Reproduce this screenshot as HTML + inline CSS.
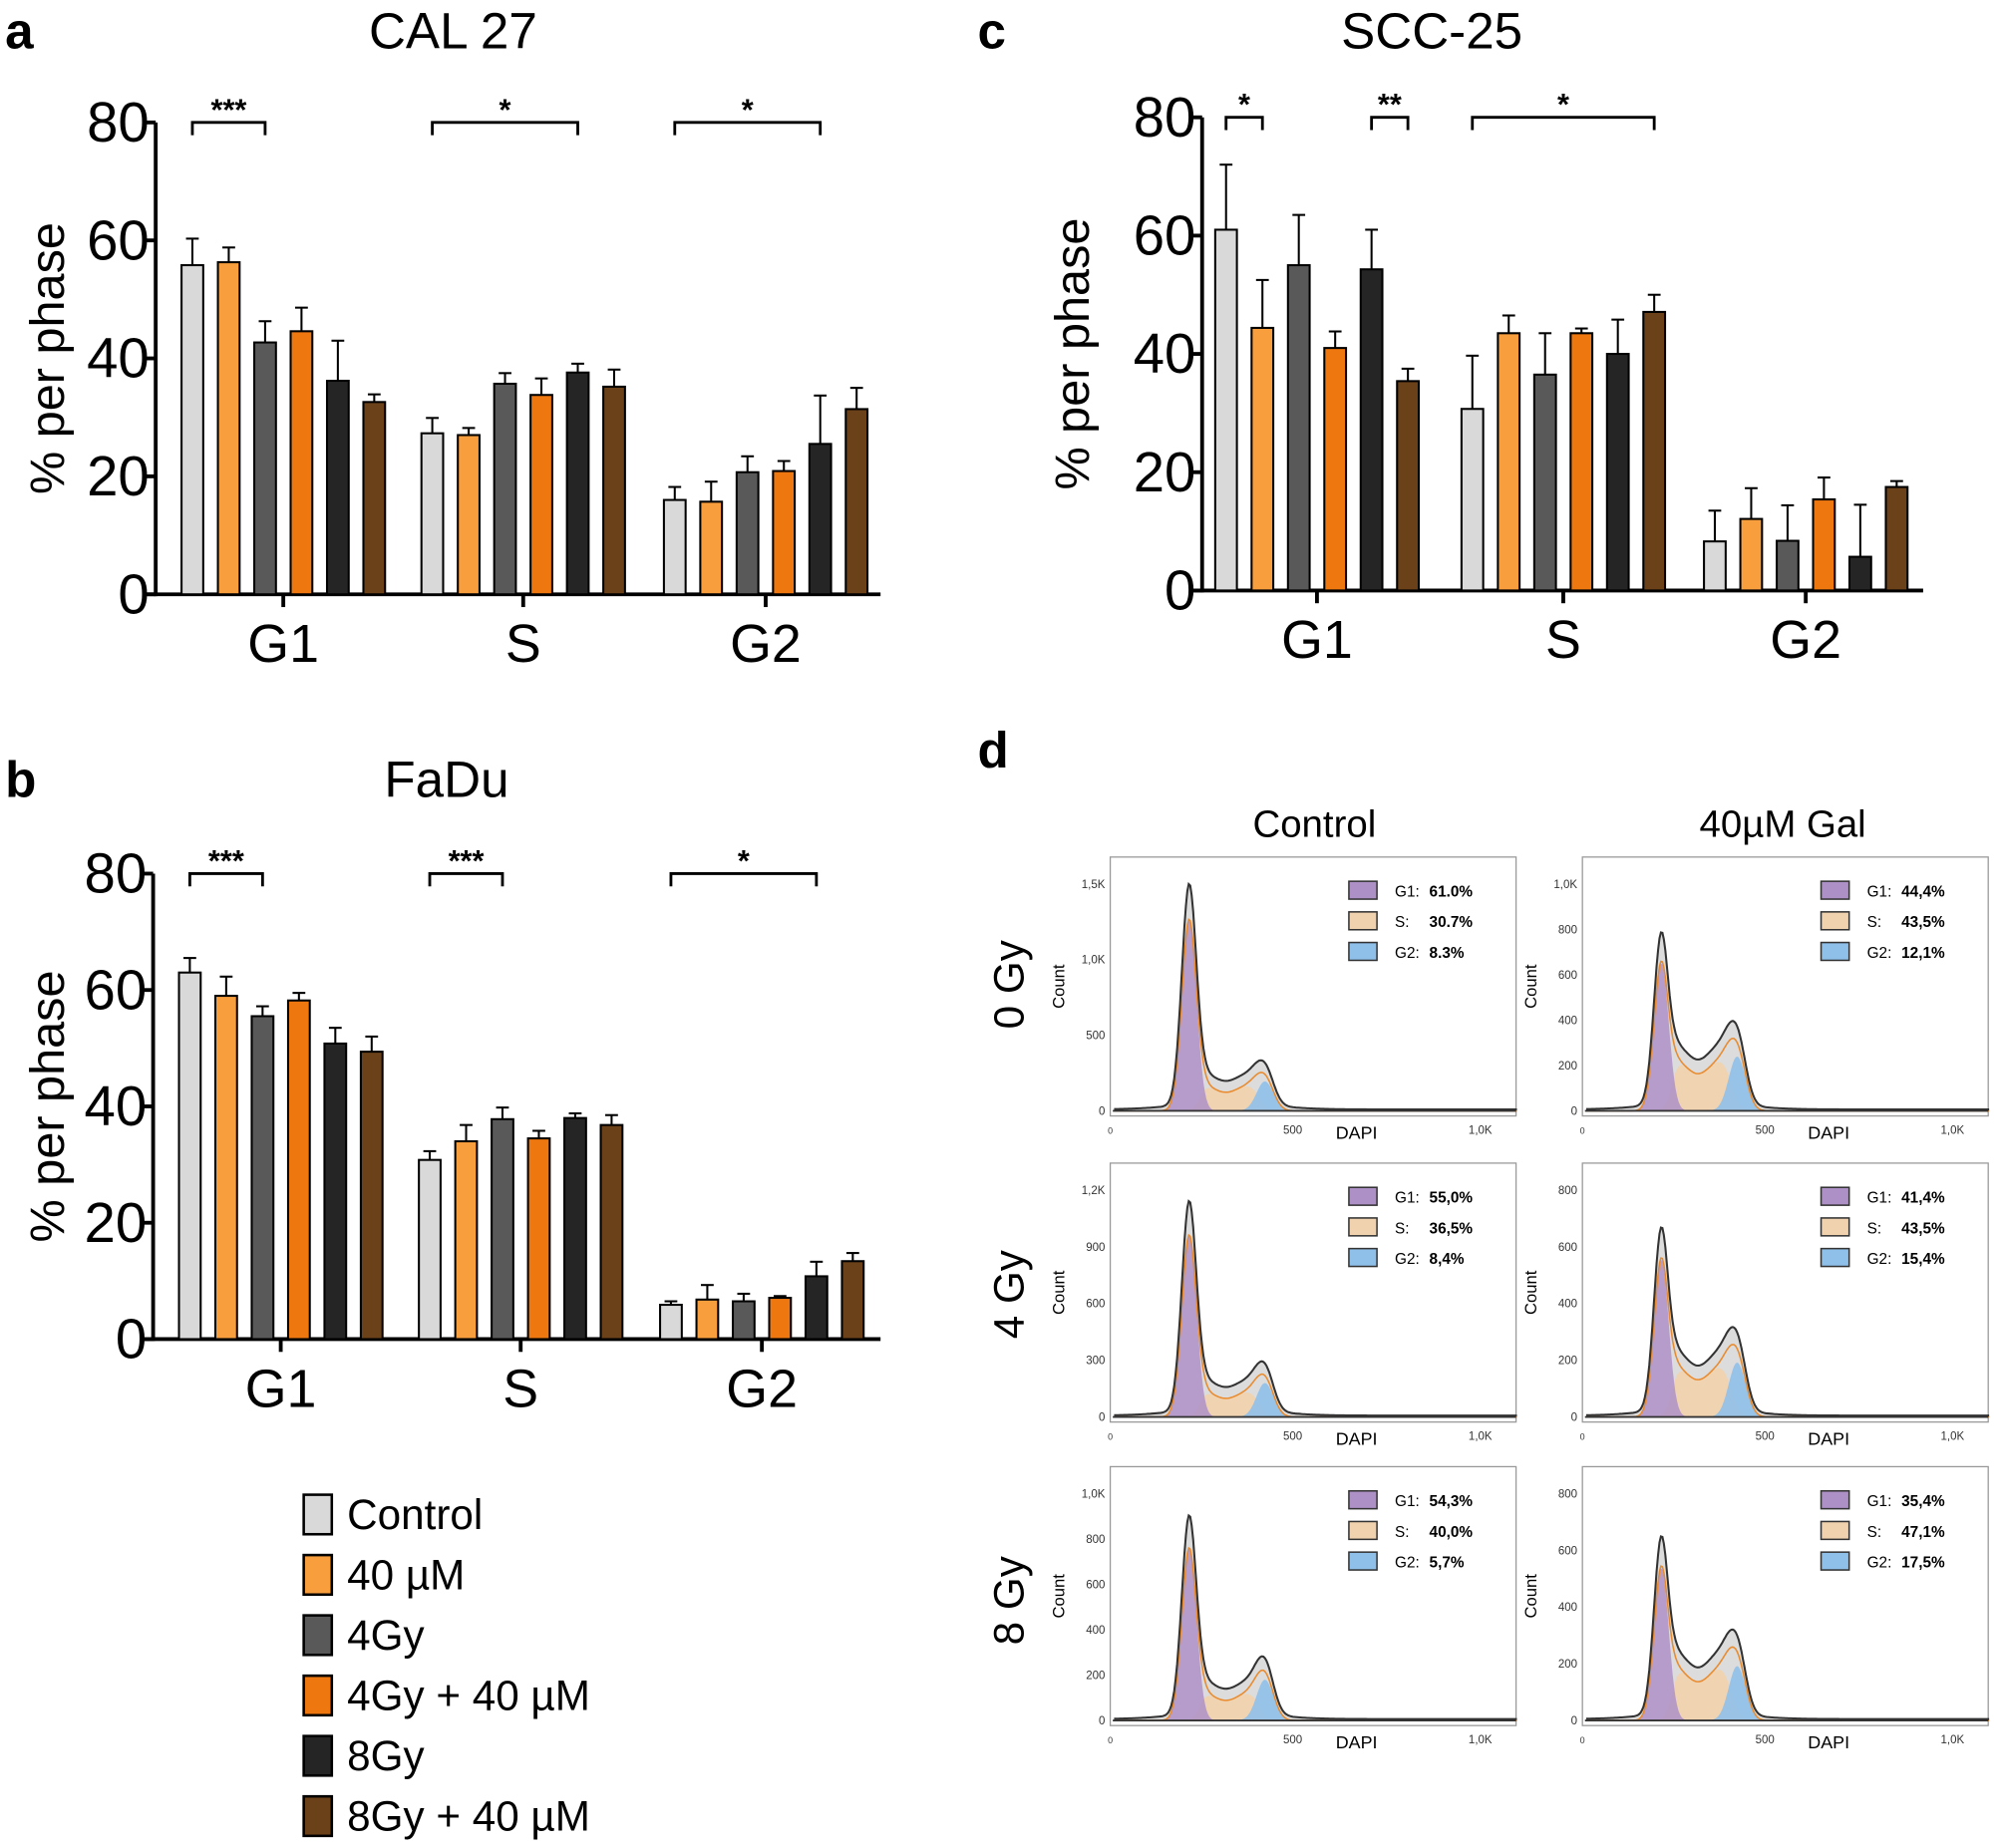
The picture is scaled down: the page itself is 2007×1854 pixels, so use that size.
<!DOCTYPE html>
<html><head><meta charset="utf-8"><style>
html,body{margin:0;padding:0;background:#fff;}
svg{display:block;font-family:"Liberation Sans",Arial,sans-serif;}
</style></head><body>
<svg id="fig" width="2007" height="1854" viewBox="0 0 1568 1449" preserveAspectRatio="none" xmlns="http://www.w3.org/2000/svg">
<rect width="1568" height="1449" fill="#fff"/>
<g font-weight="bold" font-size="40" fill="#000">
<text x="4" y="38">a</text>
<text x="4" y="625">b</text>
<text x="766" y="38">c</text>
<text x="766" y="602">d</text>
</g>
<g font-size="40" text-anchor="middle">
<text x="355" y="38">CAL 27</text>
<text x="350" y="625">FaDu</text>
<text x="1122" y="38">SCC-25</text>
</g>
<g id="legend"></g>
<g font-size="30" text-anchor="middle">
<text x="1030" y="656">Control</text>
<text x="1397" y="656">40µM Gal</text>
<text transform="translate(802,772) rotate(-90)" font-size="33">0 Gy</text>
<text transform="translate(802,1015) rotate(-90)" font-size="33">4 Gy</text>
<text transform="translate(802,1255) rotate(-90)" font-size="33">8 Gy</text>
</g>
</svg>
<script>
const NS="http://www.w3.org/2000/svg";
const svg=document.getElementById('fig');
function mk(tag,attrs,parent){const e=document.createElementNS(NS,tag);for(const k in attrs)e.setAttribute(k,attrs[k]);(parent||svg).appendChild(e);return e;}

const categories=["G1","S","G2"];
const treatments=["Control","40 µM","4Gy","4Gy + 40 µM","8Gy","8Gy + 40 µM"];
const colors=["#d9d9d9","#f99e3d","#595959","#ee770f","#252525","#6a4119"];
const yTicks=[0,20,40,60,80];
// values [treatment][phase]
const calMean=[[55.8,27.3,16.0],[56.3,27.0,15.7],[42.7,35.7,20.7],[44.6,33.8,20.9],[36.2,37.6,25.5],[32.6,35.2,31.4]];
const calErr=[[60.3,29.9,18.2],[58.8,28.2,19.1],[46.3,37.5,23.4],[48.6,36.6,22.6],[43.0,39.1,33.7],[33.9,38.1,35.0]];
const faduMean=[[63.0,30.8,5.9],[59.0,34.0,6.8],[55.5,37.8,6.5],[58.2,34.5,7.1],[50.8,38.0,10.8],[49.4,36.8,13.4]];
const faduErr=[[65.5,32.3,6.5],[62.3,36.8,9.3],[57.2,39.8,7.8],[59.5,35.8,7.4],[53.5,38.8,13.3],[52.0,38.5,14.8]];
const sccMean=[[61.0,30.7,8.3],[44.4,43.5,12.1],[55.0,36.5,8.4],[41.0,43.5,15.4],[54.3,40.0,5.7],[35.4,47.1,17.5]];
const sccErr=[[72.0,39.7,13.5],[52.5,46.5,17.3],[63.5,43.5,14.4],[43.8,44.3,19.1],[61.0,45.8,14.5],[37.5,50.0,18.5]];
const calSig=[[0,0,2,"***"],[1,0,4,"*"],[2,0,4,"*"]];
const faduSig=[[0,0,2,"***"],[1,0,2,"***"],[2,0,4,"*"]];
const sccSig=[[0,0,1,"*"],[0,4,5,"**"],[1,0,5,"*"]];

function barChart(name,ax,y0,y80,xEnd,centers,mean,err,sig,titleX){
  const g=mk('g',{});
  
  
  const y=v=>y0-(y0-y80)*v/80;
  const bx=(c,i)=>centers[c]+(i-2.5)*28.5;
  const yAxis=mk('line',{x1:ax,y1:y(80),x2:ax,y2:y0+1.5,stroke:'#000','stroke-width':3},g);
  
  
  const xAxis=mk('line',{x1:ax-8,y1:y0,x2:xEnd,y2:y0,stroke:'#000','stroke-width':3},g);
  
  
  yTicks.forEach(t=>{
    mk('line',{x1:ax-8,y1:y(t),x2:ax,y2:y(t),stroke:'#000','stroke-width':3},g);
    const tl=mk('text',{x:ax-5,y:y(t)+15,'font-size':44,'text-anchor':'end'},g);tl.textContent=t;
    
    
  });
  const yl=mk('text',{transform:`translate(${titleX},${(y0+y80)/2}) rotate(-90)`,'font-size':38,'text-anchor':'middle'},g);
  yl.textContent='% per phase';
  
  
  categories.forEach((c,ci)=>{
    mk('line',{x1:centers[ci],y1:y0,x2:centers[ci],y2:y0+10,stroke:'#000','stroke-width':3},g);
    const cl=mk('text',{x:centers[ci],y:y0+53,'font-size':42,'text-anchor':'middle'},g);cl.textContent=c;
    
    
    for(let i=0;i<6;i++){
      const cx=bx(ci,i);
      mk('line',{x1:cx,y1:y(err[i][ci]),x2:cx,y2:y(mean[i][ci]),stroke:'#000','stroke-width':1.6},g);
      mk('line',{x1:cx-5,y1:y(err[i][ci]),x2:cx+5,y2:y(err[i][ci]),stroke:'#000','stroke-width':1.6},g);
      const b=mk('rect',{x:cx-8.5,y:y(mean[i][ci]),width:17,height:y0-y(mean[i][ci]),fill:colors[i],stroke:'#000','stroke-width':1.6},g);
      
      
    }
  });
  sig.forEach(s=>{
    const xa=bx(s[0],s[1]),xb=bx(s[0],s[2]),yb=y80;
    const br=mk('path',{d:`M${xa},${yb+10}V${yb}H${xb}V${yb+10}`,fill:'none',stroke:'#000','stroke-width':2.2},g);
    
    
    const st=mk('text',{x:(xa+xb)/2,y:yb-2,'font-size':24,'font-weight':'bold','text-anchor':'middle'},g);st.textContent=s[3];
    
    
  });
}
barChart('chart-cal27',122,466,96,690,[222,410,600],calMean,calErr,calSig,50);
barChart('chart-fadu',120,1050,685,690,[220,408,597],faduMean,faduErr,faduSig,50);
barChart('chart-scc25',942,463,92,1507,[1032,1225,1415],sccMean,sccErr,sccSig,853);

// legend
const lg=document.getElementById('legend');
treatments.forEach((t,i)=>{
  const yy=1172+i*47.3;
  const r=mk('rect',{x:238,y:yy,width:22,height:31,fill:colors[i],stroke:'#000','stroke-width':2},lg);
  
  
  const tx=mk('text',{x:272,y:yy+27,'font-size':33},lg);tx.textContent=t;
  
  
});

// histograms (panel d): fraction-of-plot heights
const histBoxes=[[870,672],[1240,672],[870,912],[1240,912],[870,1150],[1240,1150]];
const g1Amp=[0.80,0.62,0.76,0.66,0.72,0.64];
const sAmp=[0.12,0.24,0.12,0.24,0.13,0.25];
const g2Amp=[0.13,0.24,0.15,0.24,0.18,0.24];
const yMaxLabels=[["0","500","1,0K","1,5K"],["0","200","400","600","800","1,0K"],["0","300","600","900","1,2K"],["0","200","400","600","800"],["0","200","400","600","800","1,0K"],["0","200","400","600","800"]];
const g1Pct=["61.0%","44,4%","55,0%","41,4%","54,3%","35,4%"];
const sPct=["30.7%","43,5%","36,5%","43,5%","40,0%","47,1%"];
const g2Pct=["8.3%","12,1%","8,4%","15,4%","5,7%","17,5%"];

histBoxes.forEach((bxy,k)=>{
  const x0=bxy[0], top=bxy[1], W=318, H=203, base=top+H-4, ph=H-16;
  const g=mk('g',{});
  
  
  mk('rect',{x:x0,y:top,width:W,height:H,fill:'#fff',stroke:'#999','stroke-width':1},g);
  const X=d=>x0+3+d*0.287, Y=f=>base-f*ph;
  const G=(d,m,s)=>Math.exp(-0.5*((d-m)/s)**2);
  const sFun=d=>sAmp[k]*(1/(1+Math.exp(-(d-235)/9)))*(1/(1+Math.exp((d-395)/12)))*(1-0.35*G(d,305,35));
  const c1=d=>g1Amp[k]*G(d,205,20), c2=d=>g2Amp[k]*G(d,412,23);
  const tot=d=>1.15*(c1(d)+sFun(d)+c2(d))+0.03*G(d,300,120)+0.006;
  const path=(f,close)=>{let p='';for(let d=0;d<=1100;d+=4)p+=(p?'L':'M')+X(d).toFixed(1)+','+Y(f(d)).toFixed(1);return close?p+`L${X(1100)},${base}L${X(0)},${base}Z`:p;};
  mk('path',{d:path(tot,true),fill:'#dcdcdc'},g);
  mk('path',{d:path(sFun,true),fill:'#f0d2ae',opacity:0.95},g);
  mk('path',{d:path(d=>c2(d)*0.95,true),fill:'#8fc0ea',opacity:0.9},g);
  mk('path',{d:path(c1,true),fill:'#ae90c8',opacity:0.85},g);
  mk('path',{d:path(d=>c1(d)+sFun(d)+c2(d),false),fill:'none',stroke:'#e98a2c','stroke-width':1.2},g);
  const line=mk('path',{d:path(tot,false),fill:'none',stroke:'#333','stroke-width':1.6},g);
  
  
  mk('line',{x1:x0+2,y1:base,x2:x0+W,y2:base,stroke:'#333','stroke-width':1.5},g);
  const labs=yMaxLabels[k], n=labs.length-1;
  labs.forEach((l,i)=>{
    const yy=base-(ph*0.95)*i/n;
    const t=mk('text',{x:x0-4,y:yy+3,'font-size':9,'text-anchor':'end',fill:'#333'},g);t.textContent=l;
    
    
  });
  const c=mk('text',{transform:`translate(${x0-36},${top+H/2}) rotate(-90)`,'font-size':13,'text-anchor':'middle'},g);c.textContent='Count';
  
  
  [["0",0,7],["500",143,9],["1,0K",290,9]].forEach(a=>{const t=mk('text',{x:x0+a[1],y:base+18,'font-size':a[2],'text-anchor':'middle',fill:'#333'},g);t.textContent=a[0];
    
    });
  const dl=mk('text',{x:x0+193,y:base+22,'font-size':14,'text-anchor':'middle'},g);dl.textContent='DAPI';
  
  
  const entries=[["G1:",g1Pct[k],'#ad90c6'],["S:",sPct[k],'#f0d2ae'],["G2:",g2Pct[k],'#8fc0ea']];
  entries.forEach((e,i)=>{
    const yy=top+26+i*24;
    mk('rect',{x:x0+187,y:yy-7,width:22,height:14,fill:e[2],stroke:'#333','stroke-width':1.2},g);
    const t1=mk('text',{x:x0+223,y:yy+5,'font-size':12},g);t1.textContent=e[0];
    
    
    const t2=mk('text',{x:x0+250,y:yy+5,'font-size':12,'font-weight':'bold'},g);t2.textContent=e[1];
    
    
  });
});
</script>
</body></html>
